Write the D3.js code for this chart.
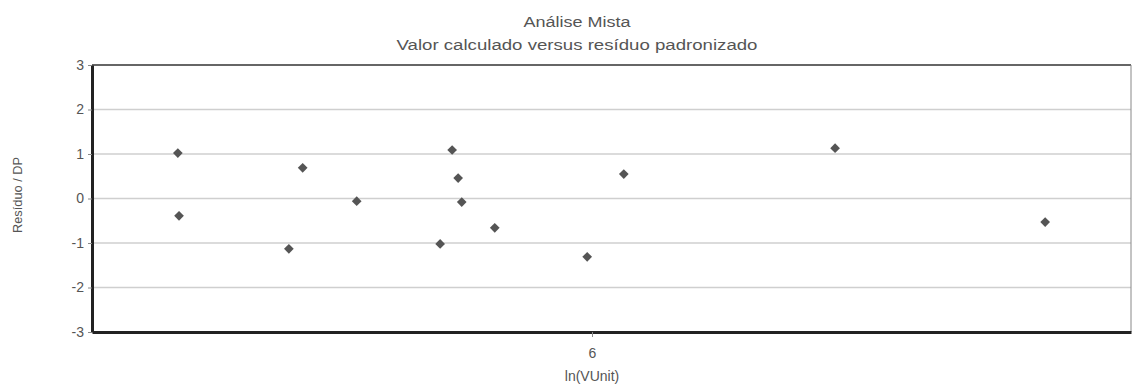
<!DOCTYPE html>
<html><head><meta charset="utf-8">
<script src="https://cdn.jsdelivr.net/npm/d3@7"></script>
<style>body{margin:0;background:#fff}svg{display:block}text{font-family:"Liberation Sans",Arial,sans-serif;fill:#555}</style>
</head><body><svg id="c" width="1133" height="389"></svg>
<script>
const xValues = [5.310, 5.312, 5.495, 5.518, 5.608, 5.747, 5.767, 5.777, 5.783, 5.838, 5.992, 6.053, 6.405, 6.755];
const yValues = [1.02, -0.39, -1.13, 0.69, -0.06, -1.02, 1.09, 0.46, -0.08, -0.66, -1.31, 0.55, 1.13, -0.53];
const xTicks = [6];
const yTicks = [-3, -2, -1, 0, 1, 2, 3];
const xDomain = [5.167, 6.898];
const yDomain = [-3, 3];
const title = "Análise Mista";
const subtitle = "Valor calculado versus resíduo padronizado";
const xLabel = "ln(VUnit)";
const yLabel = "Resíduo / DP";

const svg = d3.select("#c");
const m = {l: 92, r: 1131, t: 65, b: 332};
const x = d3.scaleLinear().domain(xDomain).range([m.l, m.r]);
const y = d3.scaleLinear().domain(yDomain).range([m.b, m.t]);
const fmt = d => String(d);

// gridlines
svg.append("g").selectAll("line").data(yTicks.filter(d => d > -3 && d < 3)).join("line")
  .attr("x1", m.l).attr("x2", m.r).attr("y1", d => y(d)).attr("y2", d => y(d))
  .attr("stroke", "#cfcfcf").attr("stroke-width", 1.5);

// frame
svg.append("line").attr("x1", m.l).attr("x2", m.r).attr("y1", m.t).attr("y2", m.t).attr("stroke", "#666").attr("stroke-width", 2);
svg.append("line").attr("x1", m.r).attr("x2", m.r).attr("y1", m.t).attr("y2", m.b).attr("stroke", "#888").attr("stroke-width", 1);

// axes
const ya = svg.append("g").attr("transform", `translate(${m.l},0)`)
  .call(d3.axisLeft(y).tickValues(yTicks).tickSize(4).tickSizeOuter(0).tickPadding(4).tickFormat(fmt));
ya.select(".domain").attr("stroke", "#222").attr("stroke-width", 3);
ya.selectAll(".tick line").attr("stroke", "#888");
ya.selectAll(".tick text").attr("font-size", 14).attr("fill", "#555").attr("font-family", "Liberation Sans, Arial, sans-serif");

const xa = svg.append("g").attr("transform", `translate(0,${m.b})`)
  .call(d3.axisBottom(x).tickValues(xTicks).tickSize(5).tickSizeOuter(0).tickPadding(11).tickFormat(fmt));
xa.select(".domain").attr("stroke", "#222").attr("stroke-width", 3);
xa.selectAll(".tick line").attr("stroke", "#888");
xa.selectAll(".tick text").attr("font-size", 14).attr("fill", "#555").attr("font-family", "Liberation Sans, Arial, sans-serif");

// points
const pts = xValues.map((v, i) => [v, yValues[i]]);
svg.append("g").selectAll("path").data(pts).join("path")
  .attr("d", d3.symbol(d3.symbolDiamond2, 60))
  .attr("transform", d => `translate(${x(d[0])},${y(d[1])})`)
  .attr("fill", "#555");

// titles
svg.append("text").attr("x", 577).attr("y", 27).attr("text-anchor", "middle").attr("font-size", 14)
  .attr("textLength", 107).attr("lengthAdjust", "spacingAndGlyphs").text(title);
svg.append("text").attr("x", 577).attr("y", 50).attr("text-anchor", "middle").attr("font-size", 14)
  .attr("textLength", 361).attr("lengthAdjust", "spacingAndGlyphs").text(subtitle);
svg.append("text").attr("x", 592).attr("y", 381).attr("text-anchor", "middle").attr("font-size", 14).text(xLabel);
svg.append("text").attr("transform", "translate(22,195) rotate(-90)").attr("text-anchor", "middle").attr("font-size", 13)
  .attr("textLength", 76).attr("lengthAdjust", "spacingAndGlyphs").text(yLabel);
</script></body></html>
